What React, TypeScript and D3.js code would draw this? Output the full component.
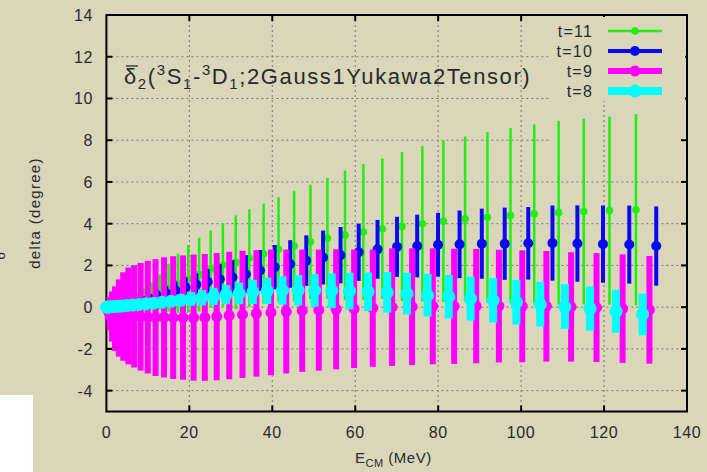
import React, { useEffect } from "react";
import * as d3 from "d3";

// ---- data ----
const E_T11 = [0.03, 0.2, 0.53, 1.03, 1.69, 2.51, 3.5, 4.65, 5.97, 7.45, 9.09, 10.89, 12.86, 14.99, 17.28, 19.74, 22.36, 25.14, 28.09, 31.2, 34.47, 37.91, 41.51, 45.27, 49.2, 53.29, 57.54, 61.96, 66.54, 71.28, 76.19, 81.26, 86.49, 91.88, 97.44, 103.16, 109.05, 115.1, 121.31, 127.69];
const V_T11 = [0.0, 0.01, 0.02, 0.04, 0.06, 0.09, 0.13, 0.18, 0.25, 0.33, 0.43, 0.56, 0.72, 0.93, 1.14, 1.35, 1.56, 1.82, 2.02, 2.15, 2.35, 2.56, 2.76, 2.93, 3.13, 3.3, 3.45, 3.6, 3.76, 3.87, 4.0, 4.12, 4.23, 4.31, 4.39, 4.47, 4.53, 4.58, 4.63, 4.67];
const D_T11 = [0.0, 0.01, 0.03, 0.05, 0.08, 0.11, 0.15, 0.2, 0.27, 0.36, 0.47, 0.62, 0.84, 1.15, 1.42, 1.62, 1.77, 1.85, 2.0, 2.25, 2.34, 2.4, 2.5, 2.65, 2.74, 2.9, 3.1, 3.25, 3.36, 3.57, 3.72, 3.87, 3.95, 4.08, 4.19, 4.29, 4.4, 4.45, 4.51, 4.58];

const E_T10 = [0.14, 0.43, 0.89, 1.51, 2.29, 3.24, 4.35, 5.62, 7.06, 8.66, 10.42, 12.35, 14.44, 16.69, 19.11, 21.69, 24.43, 27.34, 30.41, 33.64, 37.04, 40.59, 44.32, 48.2, 52.25, 56.46, 60.84, 65.38, 70.08, 74.94, 79.97, 85.16, 90.52, 96.04, 101.72, 107.56, 113.57, 119.74, 126.08, 132.58];
const V_T10 = [0.0, 0.01, 0.02, 0.04, 0.06, 0.09, 0.13, 0.18, 0.24, 0.31, 0.4, 0.52, 0.66, 0.8, 0.95, 1.08, 1.22, 1.34, 1.43, 1.58, 1.76, 1.92, 2.07, 2.23, 2.38, 2.49, 2.63, 2.77, 2.89, 2.93, 2.99, 3.01, 3.04, 3.04, 3.06, 3.07, 3.05, 3.02, 3.0, 2.93];
const D_T10 = [0.0, 0.01, 0.02, 0.03, 0.04, 0.06, 0.08, 0.1, 0.13, 0.17, 0.22, 0.28, 0.35, 0.42, 0.48, 0.54, 0.6, 0.72, 0.82, 0.91, 0.98, 1.06, 1.14, 1.21, 1.29, 1.35, 1.37, 1.41, 1.44, 1.5, 1.53, 1.62, 1.68, 1.73, 1.74, 1.8, 1.83, 1.85, 1.87, 1.9];

const E_T9 = [0.09, 0.34, 0.76, 1.34, 2.08, 2.99, 4.06, 5.29, 6.69, 8.25, 9.97, 11.85, 13.9, 16.11, 18.49, 21.03, 23.73, 26.6, 29.62, 32.82, 36.17, 39.69, 43.37, 47.22, 51.22, 55.4, 59.73, 64.23, 68.89, 73.71, 78.7, 83.85, 89.17, 94.64, 100.28, 106.09, 112.05, 118.18, 124.48, 130.94];
const V_T9 = [-0.05, -0.15, -0.3, -0.45, -0.55, -0.52, -0.45, -0.42, -0.44, -0.46, -0.48, -0.5, -0.49, -0.5, -0.5, -0.5, -0.49, -0.45, -0.4, -0.35, -0.3, -0.25, -0.21, -0.17, -0.14, -0.1, -0.08, -0.05, 0.0, 0.02, 0.04, 0.04, 0.05, 0.05, 0.04, 0.04, 0.01, -0.02, -0.07, -0.13];
const D_T9 = [0.15, 0.45, 0.8, 1.2, 1.55, 1.85, 2.12, 2.32, 2.45, 2.58, 2.7, 2.8, 2.88, 2.94, 2.98, 3.02, 3.04, 3.05, 3.05, 3.05, 3.03, 3.01, 2.97, 2.93, 2.9, 2.88, 2.84, 2.81, 2.82, 2.8, 2.78, 2.76, 2.74, 2.7, 2.68, 2.65, 2.62, 2.61, 2.6, 2.58];

const E_T8 = [0.05, 0.26, 0.64, 1.18, 1.88, 2.75, 3.78, 4.97, 6.32, 7.84, 9.52, 11.37, 13.37, 15.55, 17.88, 20.38, 23.04, 25.86, 28.85, 32.0, 35.32, 38.79, 42.44, 46.24, 50.21, 54.34, 58.63, 63.09, 67.71, 72.49, 77.44, 82.55, 87.82, 93.26, 98.86, 104.62, 110.55, 116.64, 122.89, 129.31];
const V_T8 = [0.0, 0.01, 0.01, 0.02, 0.03, 0.04, 0.06, 0.08, 0.1, 0.13, 0.16, 0.19, 0.23, 0.28, 0.33, 0.39, 0.45, 0.52, 0.6, 0.66, 0.73, 0.78, 0.8, 0.81, 0.8, 0.79, 0.77, 0.74, 0.71, 0.65, 0.57, 0.5, 0.41, 0.33, 0.24, 0.14, 0.03, -0.07, -0.2, -0.35];
const D_T8 = [0.02, 0.03, 0.03, 0.03, 0.04, 0.05, 0.06, 0.08, 0.1, 0.12, 0.14, 0.17, 0.21, 0.25, 0.29, 0.33, 0.37, 0.41, 0.46, 0.52, 0.58, 0.63, 0.68, 0.73, 0.78, 0.83, 0.88, 0.92, 0.97, 1.0, 1.02, 1.04, 1.05, 1.06, 1.07, 1.07, 1.07, 1.06, 1.03, 1.0];

const SERIES_LABELS = ["t=11", "t=10", "t=9", "t=8"];
const X_TICKS = [0, 20, 40, 60, 80, 100, 120, 140];
const Y_TICKS = [-4, -2, 0, 2, 4, 6, 8, 10, 12, 14];

const BG = "#d9d6ba";
const FONT = "'Liberation Sans', Arial, sans-serif";
const TXT = "#2a2a2a";

const x = d3.scaleLinear().domain([0, 140]).range([106.4, 687]);
const y = d3.scaleLinear().domain([-5, 14]).range([411.5, 15]);

const series = [
  { label: SERIES_LABELS[0], e: E_T11, v: V_T11, d: D_T11, color: "#22ee11", w: 2.5, r: 3.8 },
  { label: SERIES_LABELS[1], e: E_T10, v: V_T10, d: D_T10, color: "#0a0af0", w: 4, r: 5 },
  { label: SERIES_LABELS[2], e: E_T9, v: V_T9, d: D_T9, color: "#ff00ff", w: 6, r: 5.5 },
  { label: SERIES_LABELS[3], e: E_T8, v: V_T8, d: D_T8, color: "#00ffff", w: 8, r: 6.5 },
];

export default function App() {
  useEffect(() => {
    document.body.style.margin = "0";
  }, []);
  const [x0, x1] = x.range();
  const [yb, yt] = y.range();
  return (
    <svg width={707} height={472} style={{ position: "absolute", left: 0, top: 0, display: "block" }} fontFamily={FONT}>
      <rect x={0} y={0} width={707} height={472} fill={BG} />
      <rect x={0} y={395} width={33} height={77} fill="#ffffff" />
      {/* grid */}
      {X_TICKS.filter((t) => t > 0 && t < 140).map((t) => (
        <line key={"gx" + t} x1={x(t)} x2={x(t)} y1={t >= 120 ? 100 : yt} y2={yb} stroke="#777" strokeWidth={1} strokeDasharray="2,3" />
      ))}
      {Y_TICKS.filter((t) => t < 14).map((t) => (
        <line key={"gy" + t} x1={x0} x2={t >= 8 ? 550 : x1} y1={y(t)} y2={y(t)} stroke="#777" strokeWidth={1} strokeDasharray="2,3" />
      ))}
      {/* ticks */}
      {X_TICKS.filter((t) => t > 0 && t < 140).map((t) => (
        <g key={"tx" + t}>
          <line x1={x(t)} x2={x(t)} y1={yb} y2={yb - 6} stroke="#000" strokeWidth={2} />
          <line x1={x(t)} x2={x(t)} y1={yt} y2={yt + 6} stroke="#000" strokeWidth={2} />
        </g>
      ))}
      {Y_TICKS.filter((t) => t < 14).map((t) => (
        <g key={"ty" + t}>
          <line x1={x0} x2={x0 + 6} y1={y(t)} y2={y(t)} stroke="#000" strokeWidth={2} />
          <line x1={x1} x2={x1 - 6} y1={y(t)} y2={y(t)} stroke="#000" strokeWidth={2} />
        </g>
      ))}
      <rect x={x0} y={yt} width={x1 - x0} height={yb - yt} fill="none" stroke="#000" strokeWidth={2} />
      {/* tick labels */}
      {X_TICKS.map((t) => (
        <text key={"lx" + t} x={x(t)} y={438} textAnchor="middle" fontSize={16} letterSpacing={0.6} fill={TXT}>{t}</text>
      ))}
      {Y_TICKS.map((t) => (
        <text key={"ly" + t} x={93} y={y(t) + 6} textAnchor="end" fontSize={16} letterSpacing={0.6} fill={TXT}>{t}</text>
      ))}
      {/* axis titles */}
      <text x={355} y={463} fontSize={15} letterSpacing={0.5} fill={TXT}>
        E<tspan dy={4} fontSize={11}>CM</tspan><tspan dy={-4}> (MeV)</tspan>
      </text>
      <text transform="translate(40,213) rotate(-90)" textAnchor="middle" fontSize={15} letterSpacing={1.3} fill={TXT}>delta (degree)</text>
      <text transform="translate(5,256) rotate(-90)" textAnchor="middle" fontSize={13} fill={TXT}>o</text>
      {/* data */}
      {series.map((s) => (
        <g key={s.label}>
          {s.e.map((e, i) => (
            <line key={"b" + i} x1={x(e)} x2={x(e)} y1={y(s.v[i] - s.d[i])} y2={y(s.v[i] + s.d[i])} stroke={s.color} strokeWidth={s.w} />
          ))}
          {s.e.map((e, i) => (
            <circle key={"p" + i} cx={x(e)} cy={y(s.v[i])} r={s.r} fill={s.color} />
          ))}
        </g>
      ))}
      {/* legend */}
      <rect x={552} y={17} width={133} height={84} fill={BG} />
      {series.map((s, i) => {
        const ly = 31 + i * 20;
        return (
          <g key={"lg" + i}>
            <text x={593} y={ly + 6} textAnchor="end" fontSize={16} letterSpacing={1.2} fill={TXT}>{s.label}</text>
            <line x1={608} x2={662} y1={ly} y2={ly} stroke={s.color} strokeWidth={s.w} />
            <circle cx={635} cy={ly} r={s.r} fill={s.color} />
          </g>
        );
      })}
      {/* title */}
      <line x1={126} x2={138} y1={66} y2={66} stroke={TXT} strokeWidth={1.3} />
      <text x={124} y={84} fontSize={22} fill={TXT} letterSpacing={1.6}>
        δ<tspan dy={5} fontSize={15}>2</tspan>
        <tspan dy={-5}>(</tspan>
        <tspan dy={-9} fontSize={15}>3</tspan>
        <tspan dy={9}>S</tspan>
        <tspan dy={5} fontSize={15}>1</tspan>
        <tspan dy={-5}>-</tspan>
        <tspan dy={-9} fontSize={15}>3</tspan>
        <tspan dy={9}>D</tspan>
        <tspan dy={5} fontSize={15}>1</tspan>
        <tspan dy={-5}>;2Gauss1Yukawa2Tensor)</tspan>
      </text>
    </svg>
  );
}
